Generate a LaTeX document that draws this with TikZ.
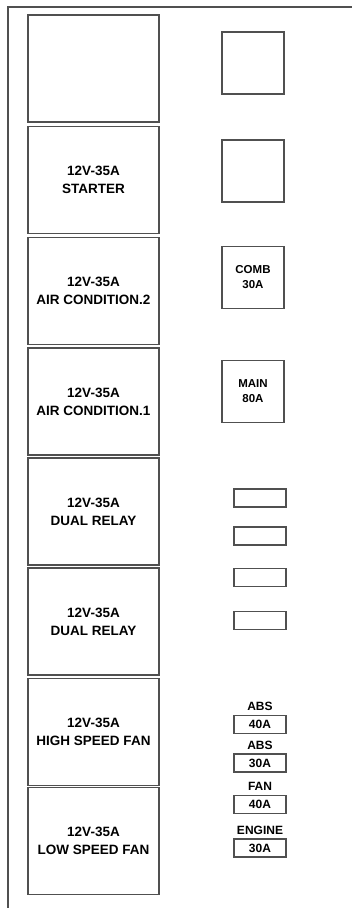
\documentclass[tikz,border=0pt]{standalone}
\usepackage{fontspec}
\setmainfont{Liberation Sans}
\usetikzlibrary{positioning}
\definecolor{edge}{HTML}{505050}
\begin{document}
\begin{tikzpicture}[x=1pt,y=-1pt,
  relaybox/.style={draw=edge,line width=1.3pt,minimum width=131pt,minimum height=107pt,align=center,font=\fontsize{13.5}{18}\selectfont\bfseries},
  fusebox/.style={draw=edge,line width=1.3pt,minimum width=62pt,minimum height=62pt,align=center,font=\fontsize{11.5}{15}\selectfont\bfseries},
  slotbox/.style={draw=edge,line width=1.1pt,minimum width=52pt,minimum height=18pt,inner sep=0pt,font=\fontsize{12}{14}\selectfont\bfseries},
  tag/.style={inner sep=0pt,font=\fontsize{12}{14}\selectfont\bfseries}]
\useasboundingbox (0,0) rectangle (352,908);
% box outline, open at right and bottom
\draw[edge,line width=1.3pt] (8,908)--(8,7)--(352,7);
% relays
\node[relaybox] (r1) at (93.5,68.5){};
\node[relaybox] (r2) at (93.5,180){12V-35A\\STARTER};
\node[relaybox] (r3) at (93.5,291){12V-35A\\AIR CONDITION.2};
\node[relaybox] (r4) at (93.5,401.5){12V-35A\\AIR CONDITION.1};
\node[relaybox] (r5) at (93.5,511.5){12V-35A\\DUAL RELAY};
\node[relaybox] (r6) at (93.5,621.5){12V-35A\\DUAL RELAY};
\node[relaybox] (r7) at (93.5,732){12V-35A\\HIGH SPEED FAN};
\node[relaybox] (r8) at (93.5,841){12V-35A\\LOW SPEED FAN};
% big fuses
\node[fusebox] (f1) at (253,63){};
\node[fusebox] (f2) at (253,171){};
\node[fusebox] (f3) at (253,277.5){COMB\\30A};
\node[fusebox] (f4) at (253,391.5){MAIN\\80A};
% small fuses
\node[slotbox] (s1) at (260,498){};
\node[slotbox] (s2) at (260,536){};
\node[slotbox] (s3) at (260,577.5){};
\node[slotbox] (s4) at (260,620.5){};
\node[slotbox] (s5) at (260,724.5){40A};
\node[slotbox] (s6) at (260,763){30A};
\node[slotbox] (s7) at (260,804.5){40A};
\node[slotbox] (s8) at (260,848){30A};
\node[tag,above=4pt of s5] (t5){ABS};
\node[tag,above=4pt of s6] (t6){ABS};
\node[tag,above=4pt of s7] (t7){FAN};
\node[tag,above=4pt of s8] (t8){ENGINE};
\end{tikzpicture}
\end{document}
